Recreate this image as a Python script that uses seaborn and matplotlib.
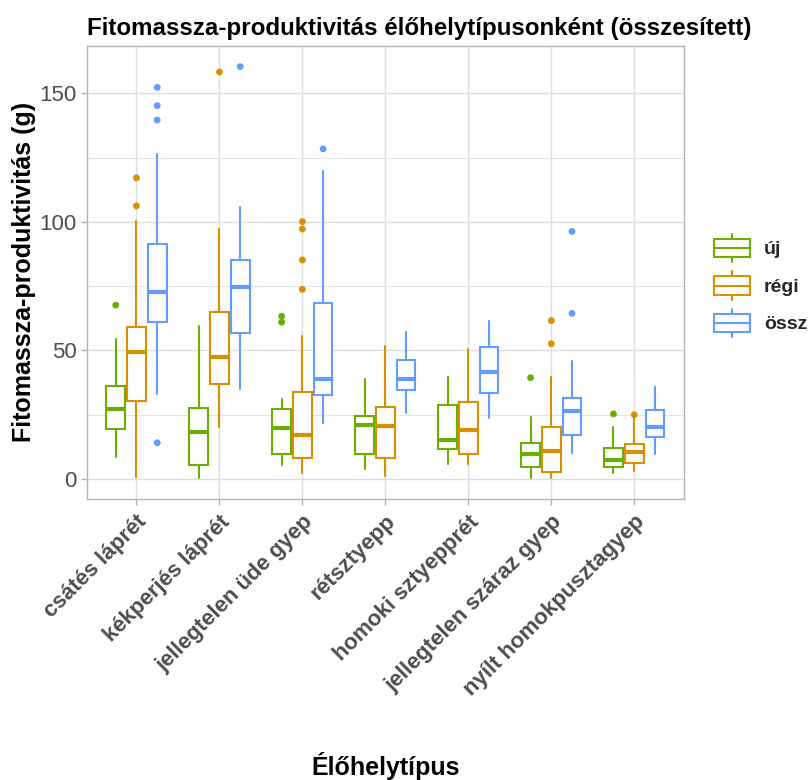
import matplotlib
matplotlib.use("Agg")
import matplotlib.pyplot as plt
import pandas as pd
import seaborn as sns
from matplotlib.legend_handler import HandlerBase
from matplotlib.patches import Rectangle
from matplotlib.lines import Line2D

# habitat types (x axis) and survey groups
categories = ["csátés láprét", "kékperjés láprét", "jellegtelen üde gyep", "rétsztyepp",
              "homoki sztyepprét", "jellegtelen száraz gyep", "nyílt homokpusztagyep"]
groups = ["új", "régi", "össz"]
colors = {"új": "#6AAE00", "régi": "#D89000", "össz": "#619CFF"}

# box statistics: whisker low, Q1, median, Q3, whisker high
uj_low = [8.4, 0.3, 5.3, 4.0, 5.8, 0.3, 2.2]
uj_q1 = [19.3, 5.6, 9.6, 9.6, 11.5, 4.8, 4.8]
uj_med = [27.3, 18.4, 20.0, 20.9, 15.0, 9.9, 7.5]
uj_q3 = [36.2, 27.7, 27.1, 24.5, 28.8, 14.1, 11.9]
uj_high = [54.3, 59.5, 31.0, 38.8, 39.8, 24.2, 20.1]
uj_out = [[67.6], [], [63.3, 61.0], [], [], [39.4], [25.3]]

regi_low = [0.7, 20.4, 2.2, 1.3, 5.8, 0.3, 3.1]
regi_q1 = [30.3, 36.8, 8.2, 8.2, 9.9, 2.8, 6.1]
regi_med = [49.5, 47.6, 17.0, 20.5, 18.9, 10.9, 10.4]
regi_q3 = [59.2, 64.8, 34.0, 27.9, 29.8, 20.2, 13.5]
regi_high = [100.5, 97.1, 55.6, 51.7, 50.6, 39.8, 24.5]
regi_out = [[117.1, 106.2], [158.3], [100.1, 97.2, 85.2, 73.8], [], [], [61.6, 52.6], [25.0]]

ossz_low = [33.1, 34.9, 21.9, 25.6, 23.7, 10.0, 9.7]
ossz_q1 = [61.1, 56.9, 32.6, 34.6, 33.4, 17.0, 16.5]
ossz_med = [72.6, 74.6, 39.0, 38.8, 41.5, 26.6, 20.3]
ossz_q3 = [91.4, 85.2, 68.6, 46.3, 51.5, 31.6, 26.8]
ossz_high = [126.3, 105.7, 119.8, 57.3, 61.5, 45.9, 35.9]
ossz_out = [[152.3, 145.2, 139.6, 14.1], [160.4], [128.4], [], [], [96.3, 64.4], []]

box_stats = {
    "új": (uj_low, uj_q1, uj_med, uj_q3, uj_high, uj_out),
    "régi": (regi_low, regi_q1, regi_med, regi_q3, regi_high, regi_out),
    "össz": (ossz_low, ossz_q1, ossz_med, ossz_q3, ossz_high, ossz_out),
}

DODGE = 0.25
BOX_W = 0.225
LW = 1.5


class BoxKey:
    def __init__(self, color):
        self.color = color


class BoxKeyHandler(HandlerBase):
    # draws a small boxplot glyph as legend key, like ggplot does
    def create_artists(self, legend, orig_handle, xdescent, ydescent, width, height, fontsize, trans):
        c = orig_handle.color
        x0, y0 = -xdescent, -ydescent
        whisk = Line2D([x0 + width / 2] * 2, [y0, y0 + height], color=c, lw=LW, transform=trans)
        box = Rectangle((x0, y0 + 0.18 * height), width, 0.64 * height,
                        facecolor="white", edgecolor=c, lw=LW, transform=trans)
        med = Line2D([x0, x0 + width], [y0 + height / 2] * 2, color=c, lw=LW, transform=trans)
        return [whisk, box, med]


sns.set_theme(style="whitegrid")
plt.rcParams["font.family"] = ["Liberation Sans", "DejaVu Sans"]

fig = plt.figure(figsize=(8.1, 7.8), dpi=100)
ax = fig.add_axes([86.7 / 810, 1 - 498.8 / 780, (684 - 86.7) / 810, (498.8 - 46) / 780])

rows = []
for gi, g in enumerate(groups):
    lo, q1, med, q3, hi, outs = box_stats[g]
    c = colors[g]
    pos = [i + (gi - 1) * DODGE for i in range(len(categories))]
    stats = [dict(whislo=a, q1=b, med=m, q3=d, whishi=e, fliers=[])
             for a, b, m, d, e in zip(lo, q1, med, q3, hi)]
    ax.bxp(stats, positions=pos, widths=BOX_W, showfliers=False, showcaps=False,
           patch_artist=True, manage_ticks=False,
           boxprops=dict(facecolor="white", edgecolor=c, linewidth=LW),
           medianprops=dict(color=c, linewidth=3.0, solid_capstyle="butt"),
           whiskerprops=dict(color=c, linewidth=LW))
    for p, vals in zip(pos, outs):
        for v in vals:
            rows.append({"pos": p, "value": v, "group": g})

outliers = pd.DataFrame(rows)
sns.scatterplot(data=outliers, x="pos", y="value", hue="group", palette=colors,
                s=24, linewidth=0, legend=False, ax=ax, zorder=3)

ax.set_xlim(-0.6, 6.6)
ax.set_ylim(-7.7, 168.4)
ax.set_xticks(range(len(categories)))
ax.set_xticklabels(categories, rotation=45, ha="right", va="top", rotation_mode="anchor",
                   fontweight="bold", color="#4D4D4D", fontsize=16)
ax.set_yticks([0, 50, 100, 150])
ax.set_yticks([25, 75, 125], minor=True)
ax.tick_params(axis="both", which="major", bottom=True, left=True, length=4, width=1,
               color="#B3B3B3")
ax.tick_params(axis="x", pad=5)
ax.tick_params(axis="y", which="major", labelsize=16, labelcolor="#4D4D4D", pad=3)
ax.tick_params(axis="y", which="minor", left=False, length=0)
ax.set_axisbelow(True)
ax.grid(True, which="major", color="#DEDEDE", linewidth=1.0)
ax.grid(True, which="minor", axis="y", color="#E4E4E4", linewidth=0.8)
for sp in ax.spines.values():
    sp.set_visible(True)
    sp.set_color("#B3B3B3")
    sp.set_linewidth(1.0)

ax.set_xlabel("Élőhelytípus", fontsize=18, fontweight="bold", color="black")
ax.xaxis.set_label_coords(0.5, -0.56)
ax.set_ylabel("Fitomassza-produktivitás (g)", fontsize=18, fontweight="bold", color="black",
              labelpad=3)
ax.set_title("Fitomassza-produktivitás élőhelytípusonként (összesített)", loc="left",
             fontsize=17.4, fontweight="bold", color="black", pad=8)

handles = [BoxKey(colors[g]) for g in groups]
ax.legend(handles, groups, handler_map={BoxKey: BoxKeyHandler()},
          loc="center left", bbox_to_anchor=(714 / 810, 1 - 285.5 / 780),
          bbox_transform=fig.transFigure, frameon=False, borderpad=0, borderaxespad=0,
          prop={"size": 14, "weight": "bold"}, handlelength=1.85, handleheight=1.89,
          labelspacing=0.45, handletextpad=0.72)

fig.savefig("out.png", dpi=100)
